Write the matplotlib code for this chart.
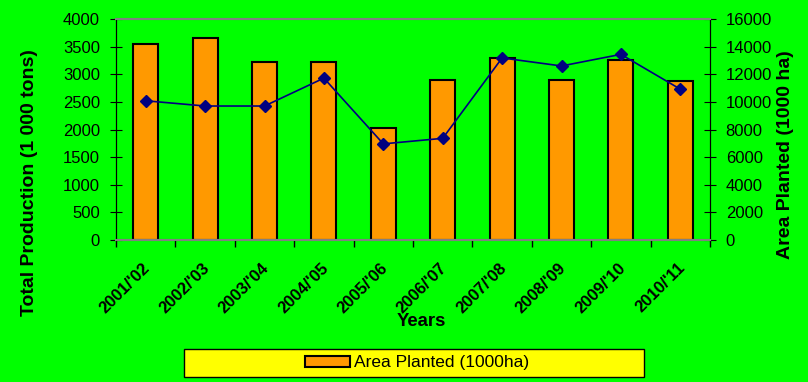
import matplotlib.pyplot as plt
import matplotlib.transforms as mtransforms
import numpy as np

plt.rcParams['font.family'] = ['Liberation Sans', 'DejaVu Sans']

years = ["2001/'02", "2002/'03", "2003/'04", "2004/'05", "2005/'06",
         "2006/'07", "2007/'08", "2008/'09", "2009/'10", "2010/'11"]
area_planted = [14170, 14650, 12860, 12910, 8130, 11580, 13200, 11580, 13060, 11490]
production = [2520, 2425, 2425, 2930, 1740, 1840, 3295, 3150, 3360, 2730]

W, H = 808, 382
fig = plt.figure(figsize=(W / 100, H / 100), dpi=100, facecolor='#00ff00')
ax = fig.add_axes([116 / W, 1 - 240 / H, 594 / W, 221 / H])
ax2 = ax.twinx()

# bars (right axis) sit under the line (left axis)
ax.set_zorder(ax2.get_zorder() + 1)
ax.patch.set_visible(False)
ax2.patch.set_facecolor('#ffff00')

x = np.arange(len(years))
bars = ax2.bar(x, area_planted, width=0.42, color='#ff9900', edgecolor='black',
               linewidth=1.5, label='Area Planted (1000ha)')
ax.plot(x, production, color='#000080', marker='D', markersize=6.5, linewidth=1.2)

ax.set_xlim(-0.5, len(years) - 0.5)
ax.set_ylim(0, 4000)
ax2.set_ylim(0, 16000)
ax.set_yticks(np.arange(0, 4001, 500))
ax2.set_yticks(np.arange(0, 16001, 2000))

ax.set_xticks(x)
ax.set_xticks(np.arange(-0.5, len(years), 1), minor=True)
ax.tick_params(axis='x', which='major', length=0, pad=18.5)
ax.tick_params(axis='x', which='minor', length=5, direction='out', width=1)
ax.tick_params(axis='y', length=8, direction='inout', labelsize=12, pad=7.5, colors='black')
ax2.tick_params(axis='y', length=8, direction='inout', labelsize=12, pad=7.3, colors='black')
ax.set_xticklabels(years, rotation=45, ha='right', va='center', rotation_mode='anchor',
                   fontsize=12, fontweight='bold')
shift = mtransforms.ScaledTranslation(2 / 100, 0, fig.dpi_scale_trans)
for lbl in ax.get_xticklabels():
    lbl.set_transform(lbl.get_transform() + shift)

for a in (ax, ax2):
    a.spines['top'].set_color('#808080')
    a.spines['top'].set_linewidth(1.5)
    a.spines['bottom'].set_color('#808080')
    a.spines['bottom'].set_linewidth(1.5)
    a.spines['left'].set_color('black')
    a.spines['right'].set_color('black')

ax.set_ylabel('Total Production (1 000 tons)', fontsize=14, fontweight='bold')
ax.yaxis.set_label_coords((38 - 116) / 594, (240 - 182.5) / 221)
ax2.set_ylabel('Area Planted (1000 ha)', fontsize=14, fontweight='bold')
ax2.yaxis.set_label_coords((777 - 116) / 594, (240 - 154.5) / 221)
ax.set_xlabel('Years', fontsize=13.3, fontweight='bold')
ax.xaxis.set_label_coords((421 - 116) / 594, (240 - 313) / 221)

# legend box
fig.patches.append(plt.Rectangle((184 / W, 1 - 377 / H), 460 / W, 28 / H,
                                 transform=fig.transFigure, facecolor='#ffff00',
                                 edgecolor='black', linewidth=1))
fig.legend(handles=[bars], loc='center', bbox_to_anchor=(417 / W, 1 - 363 / H),
           fontsize=12.5, frameon=False, handlelength=2.6, handleheight=0.55,
           handletextpad=0.2, borderpad=0.2)

fig.savefig('out.png', dpi=100, facecolor=fig.get_facecolor())
